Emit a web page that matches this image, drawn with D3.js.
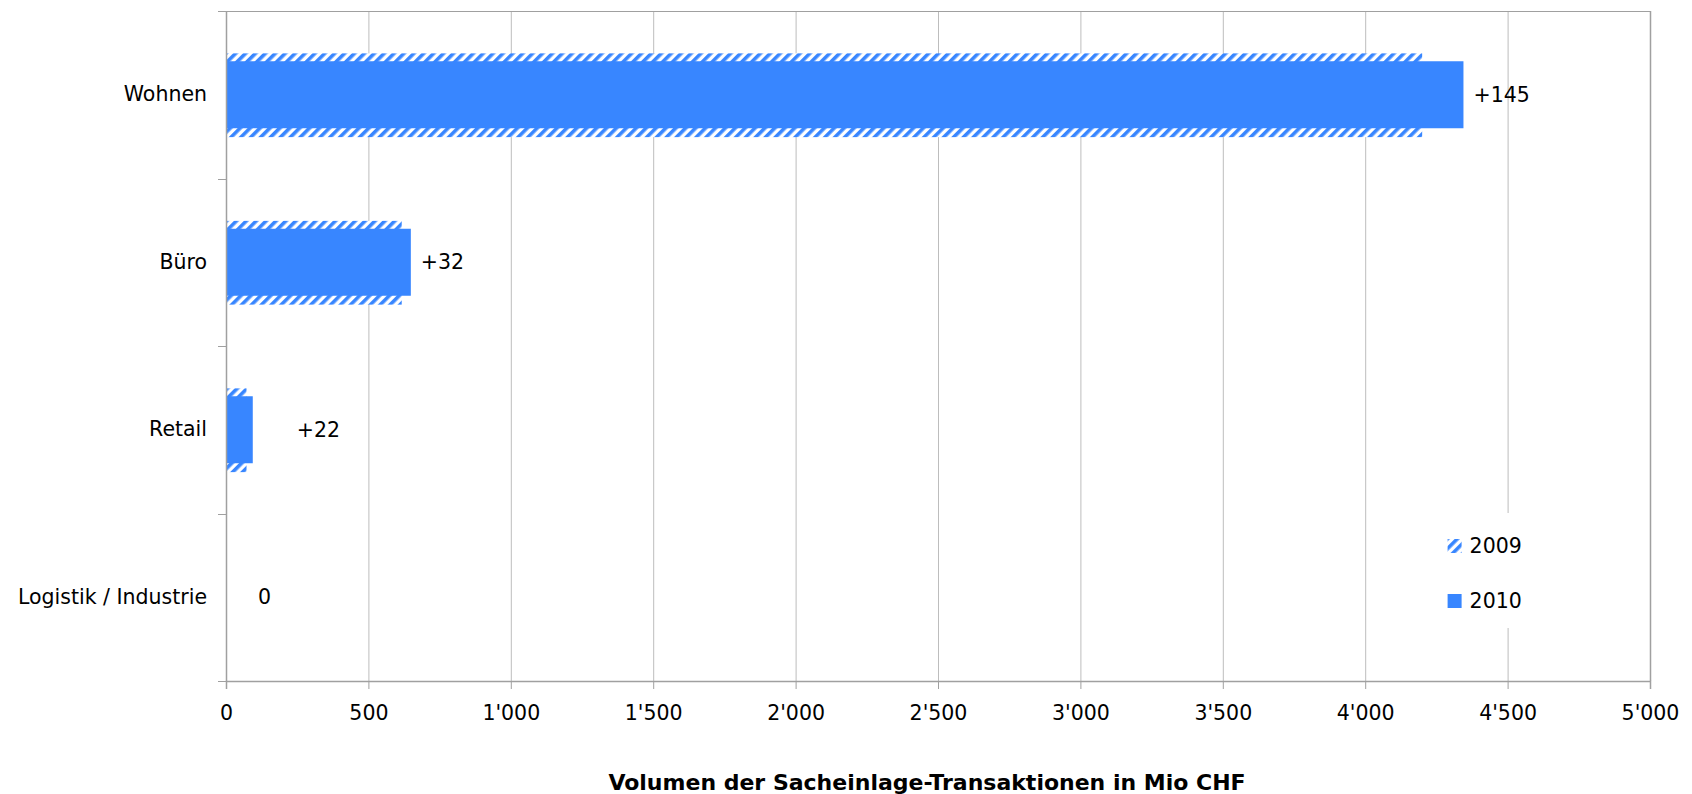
<!DOCTYPE html>
<html>
<head>
<meta charset="utf-8">
<script src="https://cdn.jsdelivr.net/npm/d3@7"></script>
<style>
  html, body { margin: 0; padding: 0; background: #fff; }
  svg { display: block; font-family: "DejaVu Sans", sans-serif; }
</style>
</head>
<body>
<svg id="chart" width="1692" height="794"></svg>
<script>
// Sacheinlage-Transaktionen nach Nutzung (Mio CHF)
const categories = ["Wohnen", "Büro", "Retail", "Logistik / Industrie"];
const values2009 = [4200, 617, 72, 0];
const values2010 = [4345, 649, 94, 0];
const changeLabels = ["+145", "+32", "+22", "0"];
const xTicks = [0, 500, 1000, 1500, 2000, 2500, 3000, 3500, 4000, 4500, 5000];
const seriesNames = ["2009", "2010"];
const axisTitle = "Volumen der Sacheinlage-Transaktionen in Mio CHF";

const blue = "#3886FF";
const grid = "#BDBDBD";
const axisGray = "#A0A0A0";
const fontSize = 20.5;

const svg = d3.select("#chart");
const margin = { left: 226, top: 11, right: 42, bottom: 113 };
const W = 1692, H = 794;
const innerW = W - margin.left - margin.right;
const innerH = H - margin.top - margin.bottom;

const x = d3.scaleLinear().domain([0, 5000]).range([0, innerW]);
const y = d3.scaleBand().domain(categories).range([0, innerH]);

// diagonal hatch used for the 2009 series
const defs = svg.append("defs");
const pat = defs.append("pattern")
  .attr("id", "hatch")
  .attr("patternUnits", "userSpaceOnUse")
  .attr("width", 7).attr("height", 7)
  .attr("patternTransform", "rotate(45)");
pat.append("rect").attr("width", 7).attr("height", 7).attr("fill", "#fff");
pat.append("rect").attr("width", 3.6).attr("height", 7).attr("fill", blue);

const g = svg.append("g").attr("transform", `translate(${margin.left},${margin.top})`);

// vertical gridlines
g.append("g").selectAll("line").data(xTicks.slice(1)).join("line")
  .attr("x1", d => x(d) + 0.5).attr("x2", d => x(d) + 0.5)
  .attr("y1", 0).attr("y2", innerH)
  .attr("stroke", grid).attr("stroke-width", 1);

// top border
g.append("line").attr("x1", 0).attr("x2", innerW).attr("y1", 0.5).attr("y2", 0.5)
  .attr("stroke", axisGray).attr("stroke-width", 1);

// bars
const thick2009 = y.bandwidth() * 0.5;
const thick2010 = y.bandwidth() * 0.4;

g.append("g").selectAll("rect").data(categories).join("rect")
  .attr("x", 0)
  .attr("y", d => y(d) + (y.bandwidth() - thick2009) / 2 + 0.5)
  .attr("width", (d, i) => x(values2009[i]))
  .attr("height", thick2009)
  .attr("fill", "url(#hatch)");

g.append("g").selectAll("rect").data(categories).join("rect")
  .attr("x", 0)
  .attr("y", d => y(d) + (y.bandwidth() - thick2010) / 2)
  .attr("width", (d, i) => x(values2010[i]))
  .attr("height", thick2010)
  .attr("fill", blue);

// change labels to the right of the bars
const labelNudge = { "Retail": 34 };
g.append("g").selectAll("text").data(categories).join("text")
  .attr("x", (d, i) => Math.max(x(values2010[i]) + 10, 32) + (labelNudge[d] || 0))
  .attr("y", d => y(d) + y.bandwidth() / 2)
  .attr("dy", "0.35em")
  .attr("font-size", fontSize)
  .attr("fill", "#000")
  .text((d, i) => changeLabels[i]);

// left (category) axis
const yAxis = d3.axisLeft(y).tickSize(0).tickPadding(19);
const yAxisG = g.append("g").call(yAxis);
yAxisG.select(".domain").remove();
yAxisG.selectAll("text").attr("font-size", fontSize).attr("fill", "#000")
  .attr("font-family", "'DejaVu Sans', sans-serif");

g.append("line").attr("x1", 0.5).attr("x2", 0.5).attr("y1", 0).attr("y2", innerH)
  .attr("stroke", axisGray).attr("stroke-width", 1.5);
const bounds = [0].concat(categories.map(c => y(c) + y.bandwidth()));
g.append("g").selectAll("line").data(bounds).join("line")
  .attr("x1", -8).attr("x2", 0)
  .attr("y1", d => Math.round(d) + 0.5).attr("y2", d => Math.round(d) + 0.5)
  .attr("stroke", axisGray).attr("stroke-width", 1);

// bottom (value) axis
const fmt = d => d3.format(",")(d).replace(/,/g, "'");
const xAxis = d3.axisBottom(x).tickValues(xTicks).tickFormat(fmt).tickSize(8).tickPadding(16);
const xAxisG = g.append("g").attr("transform", `translate(0,${innerH})`).call(xAxis);
xAxisG.select(".domain").attr("stroke", axisGray).attr("stroke-width", 1.5);
xAxisG.selectAll(".tick line").attr("stroke", axisGray);
xAxisG.selectAll("text").attr("font-size", fontSize).attr("fill", "#000")
  .attr("font-family", "'DejaVu Sans', sans-serif");

// right border
g.append("line").attr("x1", innerW + 0.5).attr("x2", innerW + 0.5).attr("y1", 0).attr("y2", innerH)
  .attr("stroke", axisGray).attr("stroke-width", 1.5);

// axis title
svg.append("text")
  .attr("x", margin.left + innerW / 2 - 11)
  .attr("y", 782)
  .attr("dy", "0.35em")
  .attr("text-anchor", "middle")
  .attr("font-size", 22)
  .attr("font-weight", "bold")
  .attr("fill", "#000")
  .text(axisTitle);

// legend
const lg = g.append("g").attr("transform", `translate(${x(4500) - 68},${502})`);
lg.append("rect").attr("x", 0).attr("y", 0).attr("width", 92).attr("height", 115).attr("fill", "#fff");
const fills = ["url(#hatch)", blue];
seriesNames.forEach((name, i) => {
  const row = lg.append("g").attr("transform", `translate(8,${33 + i * 55})`);
  row.append("rect").attr("x", 0).attr("y", -7).attr("width", 14).attr("height", 14).attr("fill", fills[i]);
  row.append("text").attr("x", 22).attr("y", 0).attr("dy", "0.35em")
    .attr("font-size", fontSize).attr("fill", "#000").text(name);
});
</script>
</body>
</html>
